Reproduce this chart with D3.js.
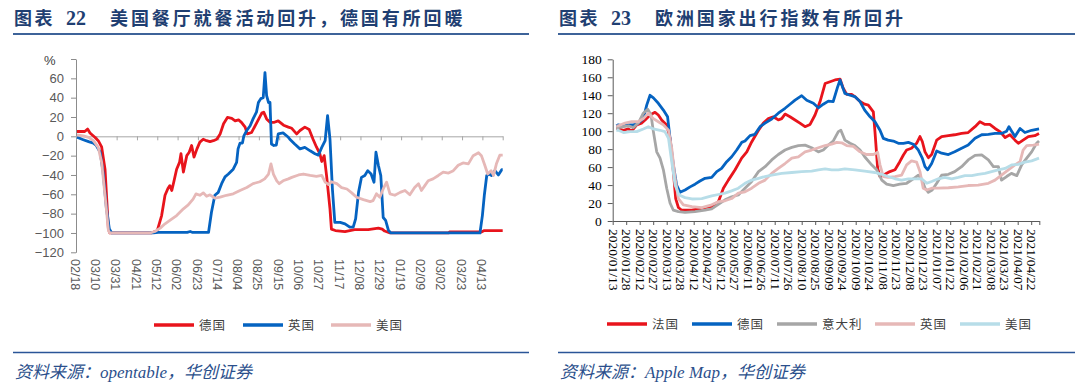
<!DOCTYPE html>
<html>
<head>
<meta charset="utf-8">
<script src="https://cdn.jsdelivr.net/npm/d3@7/dist/d3.min.js"></script>
<style>
  body { margin: 0; background: #fff; }
  svg { display: block; }
</style>
</head>
<body>
<svg id="chart" width="1080" height="388"></svg>
<script>
// ---- left panel data (day offset from 2020-02-18, value %) ----
const leftStart = '2020-02-18';
const leftDays = 441;
const leftTicks = ['2020-02-18', '2020-03-10', '2020-03-31', '2020-04-21', '2020-05-12', '2020-06-02',
  '2020-06-23', '2020-07-14', '2020-08-04', '2020-08-25', '2020-09-15', '2020-10-06', '2020-10-27',
  '2020-11-17', '2020-12-08', '2020-12-29', '2021-01-19', '2021-02-09', '2021-03-02', '2021-03-23', '2021-04-13'];
const leftYTicks = [-120, -100, -80, -60, -40, -20, 0, 20, 40, 60];

const germanyL = [[1,5],[5,5],[9,5],[12,7.5],[14.5,3.5],[19.5,-1],[23,-4.5],[26.5,-11],[30,-34],[33.5,-96],[35,-100],
  [78,-100],[84,-97.5],[88.5,-82],[92,-61],[95,-54],[97,-51],[99,-56],[101,-47.5],[104,-34],[107,-27],[108.5,-18],
  [111,-37],[114.5,-20],[117,-16.5],[119.5,-9.5],[122,-21.5],[125,-13],[128,-6],[131.5,-3],[135,-4.5],[138.5,-5.5],
  [142,-4.5],[145.5,-3],[149,2.5],[152.5,13],[156.5,19.5],[161,18.5],[164.5,16],[168,17],[171,14.5],[174.8,9.5],
  [177,2.5],[181.5,4],[187,14.5],[192,24],[194,25],[197,18],[200.5,14.5],[205,14.5],[209,16],[214.5,11.5],
  [219.5,9.5],[223,8.3],[228,2.5],[231.5,6],[236.5,9.5],[241,7],[245,-3],[248.5,-11],[252,-18],[254,-26],
  [256.5,-20],[259,-41],[262.5,-75],[264,-96],[268,-97.5],[278,-98.5],[288,-96.5],[302,-96.5],[312.5,-95],
  [316.5,-96],[319,-98],[324.5,-100],[385,-100],[386,-99],[419,-99],[422,-97.5],[441,-97.5]];

const ukL = [[1,-1],[7.5,-3.5],[13,-5.5],[18,-7],[21,-9.5],[25,-16.5],[28,-37],[31.5,-75],[34.5,-96],[37,-100],
  [80,-100],[85,-99.3],[115,-99.3],[118,-98.5],[120,-99.3],[137,-99.3],[140,-78.5],[143.5,-61],[147,-58],
  [150.5,-49],[154,-42],[157.5,-39],[162.5,-34],[166,-27],[167.5,-13],[169.5,-7],[172,-7],[173.5,0.5],[176.5,6],
  [180,11],[183,18],[186.5,25],[188.5,35],[191,39],[193.5,40],[195.3,66],[197,42],[199,35],[200.5,35],[202,-8],
  [204.5,-9.5],[207,-9],[209,2.5],[214,3.5],[219.5,-1],[221,-3],[226,-8],[231.5,-13],[236.5,-11.5],[242,-15],
  [247,-18],[250.5,-19.5],[254,-11.5],[257.5,-4.5],[260,21.5],[262.5,-3],[265,-54.5],[267.5,-89],[273,-89],
  [278,-90.5],[283,-94],[286.5,-94],[289,-85.5],[292,-58],[295,-42.5],[298.5,-40.5],[301.5,-35.5],[305,-39],
  [308,-47.5],[310,-16.5],[312.5,-30],[315,-40.5],[317.5,-84],[320,-87],[323,-97.5],[325.5,-100],[417.5,-100],
  [420,-82],[422,-61],[424.5,-40.5],[427,-39],[429.5,-40.5],[433,-35.5],[436.5,-40],[440,-34.5],[441,-34.5]];

const usL = [[1,1.5],[7.5,0.5],[13,-1],[18,-4.5],[23,-11.5],[26.5,-27],[30,-61],[33.5,-97.5],[35,-100],
  [76.5,-100],[81.5,-98.5],[87,-95],[92,-90.5],[97,-87],[104,-82],[111,-75],[116,-71],[121,-65],[124,-59.5],
  [128,-61],[131.5,-58.5],[135,-62],[138.5,-60.5],[143.5,-64],[149,-63],[155.5,-61],[162.5,-59.5],[169.5,-56],
  [176.5,-53],[183,-49],[190,-47],[195,-44],[199,-39],[201.5,-28.5],[204,-39],[207.5,-46],[210,-49],[214,-46],
  [219.5,-44],[223,-42.5],[230,-40],[235,-39],[242,-40.5],[248.5,-41.5],[254,-40.5],[257.5,-47.5],[261,-50],
  [264,-47],[269.5,-49],[274.5,-53],[280,-54.5],[285,-58.5],[290,-63],[297,-65.5],[304,-67.5],[307,-66.5],
  [310.5,-59.5],[314,-63],[317.5,-54.5],[321,-47.5],[324.5,-59.5],[329.5,-61],[335,-58],[340,-56],[345,-60.5],
  [350,-53],[354,-49],[357,-56],[360.5,-51],[364,-46],[369,-44],[374.5,-40.5],[379.5,-37],[385,-38],[390,-35.5],
  [395,-30],[400,-27.5],[405.5,-28.5],[410.5,-20],[416,-17],[419,-20],[422.5,-30],[425.5,-39],[429,-35.5],
  [431.5,-40.5],[434.5,-28.5],[438,-19.5],[441,-19.5]];

// ---- right panel data (day offset from 2020-01-13, index) ----
const rightStart = '2020-01-13';
const rightDays = 474;
const rightTicks = ['2020-01-13', '2020-01-28', '2020-02-12', '2020-02-27', '2020-03-13', '2020-03-28',
  '2020-04-12', '2020-04-27', '2020-05-12', '2020-05-27', '2020-06-11', '2020-06-26', '2020-07-11', '2020-07-26',
  '2020-08-10', '2020-08-25', '2020-09-09', '2020-09-24', '2020-10-09', '2020-10-24', '2020-11-08', '2020-11-23',
  '2020-12-08', '2020-12-23', '2021-01-07', '2021-01-22', '2021-02-06', '2021-02-21', '2021-03-08', '2021-03-23',
  '2021-04-07', '2021-04-22'];
const rightYTicks = [0, 20, 40, 60, 80, 100, 120, 140, 160, 180];

const franceR = [[4,103],[6.3,102.5],[12,101],[17.4,102.5],[21,100],[26.7,107],[32,109],[36,112.5],[41.5,118],
  [47,121],[50.7,118],[54.4,112.5],[60,107],[63.7,92],[67.4,55],[70,25],[73,15],[76.7,12],[88,12],[102.6,15],
  [110,16],[117.4,21.5],[123,36.5],[128.5,45.5],[136,57],[143.3,70],[149,77],[154.4,88],[162,101],[167.4,109],
  [173,114],[178.5,116],[184,112.5],[187.8,114],[191.5,119],[197,116],[202.6,112.5],[208,109],[213.7,105],
  [219.3,107.5],[224.8,118],[230.4,133],[236,153],[241.5,155],[247,157],[252.6,158],[256,148],[260,141],
  [265.5,141],[269,138.5],[274.8,133],[280,130],[284,129],[289.6,121.5],[291.4,99.5],[294.4,58.5],[297,49.5],
  [302.5,52],[308,55],[313.7,57],[319,66],[323,73.5],[326.6,79],[332,81],[337.7,86.5],[341.4,94],[344,88.5],
  [347,77],[350.7,70.5],[354.4,74],[360,90],[365.5,94],[373,95],[380,96],[387.7,97.5],[395,98.5],[402.6,105],
  [408,110.5],[413.7,107.5],[419,107.5],[424.8,103],[430.3,99.5],[436,93],[441.4,96],[447,90],[450.7,86.5],
  [456,90],[461.8,94],[469,95],[473.7,97.5]];

const germanyR = [[4,106],[6.3,107],[12,106],[17.4,107],[23,107],[28.5,109],[34,114],[37.8,129],[41.5,140],
  [45.2,137],[50.7,131],[56.3,123.5],[61,116],[63.7,92],[67.4,62.5],[71,40],[74.8,32],[80.4,34.5],[86,38],
  [91.5,41],[97,44.5],[102.6,47.5],[110,48.5],[115.6,55],[121,58.5],[126.7,66],[132.2,71.5],[137.8,79],
  [143.3,87.5],[147,89],[152.6,95],[158,96.5],[163.7,105],[169.3,109],[176.7,113.5],[184,120],[191.5,125.5],
  [197,130],[202.6,134.5],[210,139.5],[215.6,134.5],[223,131],[228.5,126],[234,130],[239.6,133.5],[245,133],
  [250,149.5],[252.6,157],[258,142],[263.7,140],[269,138.5],[274.8,133],[280,123.5],[286,116],[291.4,110.5],
  [297,101],[300.7,92],[306,90],[311.8,89],[317.4,86.5],[323,86.5],[328.5,87.5],[334,85.5],[339.6,79],[344,70],
  [347,60.5],[350,57],[354.4,64],[360,78],[365.5,75.5],[373,74],[380,77],[387.7,81],[395,84.5],[402.6,92],
  [410,96],[417.4,96.5],[424.8,97.5],[432,97.5],[437.7,100],[440.3,105],[443.3,100],[447,94],[452.6,103],
  [458,98.5],[465.5,101],[473.7,102.5]];

const italyR = [[4,104],[6.3,104],[12,105],[17.4,106],[23,104],[28.5,109],[34,120],[38.9,124.5],[42.6,118],
  [45.2,99.5],[48.9,77],[52.6,70],[56.3,57],[60,36.5],[63.7,20],[67.4,12],[73,10.5],[80.4,9.5],[91.5,10.5],
  [102.6,12],[110,13.5],[117.4,18.5],[124.8,23.5],[132.2,27],[139.6,29],[147,36.5],[154.4,44],[162,55],
  [169.3,60.5],[176.7,68],[184,74],[191.5,79],[199,82],[206.3,84],[213.7,84.5],[221,81.5],[228.5,77],[234,79],
  [239.6,84.5],[245,89],[250.7,99.5],[253.5,101],[258,90],[263.7,86.5],[269,84],[274.8,79],[280,71.5],
  [287.7,62.5],[293.3,57],[299,45.5],[304.4,41],[311.8,39.5],[319,41],[326.6,42],[334,47],[339.6,51],[344,45.5],
  [347,36.5],[350.7,32],[355,34.5],[360,42],[365.5,51],[373,52],[380,55],[387.7,60.5],[395,68],[402.6,73],
  [410,73.5],[417.4,68],[423,60.5],[428.5,60.5],[432,45.5],[437.7,49.5],[443,53],[449,50.5],[454.4,62.5],
  [460,70],[465.5,77],[471,86.5],[473.7,89]];

const ukR = [[4,106],[6.3,106],[13.7,109],[21,110.5],[28.5,110.5],[34,114],[39.6,120],[45.2,114],[50.7,110.5],
  [56.3,107],[62,101],[65.6,81],[69.3,47.5],[73,25],[78.5,18],[88,16],[99,15],[110,18],[117.4,21.5],[124.8,22.5],
  [132.2,25],[139.6,31],[147,32.5],[154.4,36.5],[162,42],[169.3,45.5],[176.7,53],[184,58.5],[191.5,64],[199,70],
  [206.3,71.5],[213.7,77],[221,79],[228.5,81.5],[236,84],[243.3,85.5],[249,87.5],[254.4,87],[260,84],[267.4,83],
  [274.8,77],[282,74],[289.6,74],[294.4,76.5],[297,62.5],[300.7,49.5],[306,48.5],[313.7,49.5],[321,51],
  [326.6,62.5],[332,67],[337.7,65.5],[341.4,55],[345,36.5],[349,34.5],[354.4,36.5],[361.8,36.5],[373,37],
  [384,38],[395,39.5],[406,40],[417.4,42],[424.8,45.5],[432,51],[439.6,57],[447,62.5],[452.6,66],[456,79],
  [460,84],[467.4,84.5],[473.7,85.5]];

const usR = [[4,101],[6.3,101],[12,98.5],[19.3,99.5],[26.7,99.5],[34,102.5],[39.6,105],[45.2,102.5],[52.6,101],
  [58,99.5],[62,92],[65.6,66],[69.3,40],[73.7,29],[80.4,26],[88,24.5],[99,25],[110,28],[117.4,29.5],[124.8,31],
  [132.2,33.5],[139.6,36.5],[147,42],[154.4,45.5],[162,47.5],[169.3,49.5],[176.7,51],[187.8,53],[199,54],
  [210,55],[221,55.5],[228.5,57],[236,58],[243.3,57],[250.7,57],[258,58],[269,57],[280,55.5],[291.4,54],
  [299,52],[306,49.5],[313.7,47],[321,45.5],[328.5,47],[336,47],[343.3,47],[349,42],[354.4,44],[361.8,47],
  [369,48.5],[376.6,47],[384,48.5],[391.4,50.5],[399,50.5],[406,52],[413.7,53],[421,55],[428.5,57],[436,58.5],
  [443.3,62.5],[450.7,63],[458,65.5],[465.5,67],[473.7,70]];

const svg = d3.select('#chart');
const parse = d3.utcParse('%Y-%m-%d');
const dayMs = 864e5;
const cjk = '"Noto Sans CJK SC", sans-serif';
const navy = '#1f3f72';

// ---------- headers / footers ----------
function frame(x0, x1, num, title, source) {
  const t = svg.append('text')
    .attr('y', 25)
    .attr('fill', navy)
    .style('font-weight', 700);
  t.append('tspan').attr('x', x0).text('图表')
    .style('font-family', cjk).style('font-size', '18px').style('letter-spacing', '2.5px');
  t.append('tspan').attr('x', x0 + 52).text(num)
    .style('font-family', '"Liberation Serif", serif').style('font-size', '20px');
  t.append('tspan').attr('x', x0 + 96).text(title)
    .style('font-family', cjk).style('font-size', '18px').style('letter-spacing', '2.9px');

  svg.append('line').attr('x1', x0 - 1).attr('x2', x1).attr('y1', 34).attr('y2', 34)
    .attr('stroke', '#3d6399').attr('stroke-width', 2);
  svg.append('line').attr('x1', x0 - 1).attr('x2', x1).attr('y1', 352.5).attr('y2', 352.5)
    .attr('stroke', '#2a5597').attr('stroke-width', 1.5);

  svg.append('text')
    .attr('x', x0 + 1).attr('y', 378)
    .attr('fill', '#2b4f8c')
    .style('font-family', '"Liberation Serif", ' + cjk)
    .style('font-style', 'italic')
    .style('font-size', '17px')
    .text(source);
}

frame(14, 529, '22', '美国餐厅就餐活动回升，德国有所回暖', '资料来源：opentable，华创证券');
frame(559, 1075, '23', '欧洲国家出行指数有所回升', '资料来源：Apple Map，华创证券');

function legend(items, y) {
  items.forEach(item => {
    svg.append('line')
      .attr('x1', item.x).attr('x2', item.x + 40)
      .attr('y1', y).attr('y2', y)
      .attr('stroke', item.color).attr('stroke-width', 3.5);
    svg.append('text')
      .attr('x', item.x + 45).attr('y', y + 4.5)
      .attr('fill', '#404040')
      .style('font-family', cjk)
      .style('font-size', '12.5px')
      .style('letter-spacing', '1px')
      .text(item.label);
  });
}

function drawLines(g, series, x, y, start) {
  const t0 = parse(start).getTime();
  const line = d3.line()
    .x(d => x(new Date(t0 + d[0] * dayMs)))
    .y(d => y(d[1]));
  series.forEach(s => {
    g.append('path')
      .datum(s.data)
      .attr('fill', 'none')
      .attr('stroke', s.color)
      .attr('stroke-width', 2.8)
      .attr('stroke-linejoin', 'round')
      .attr('d', line);
  });
}

// ---------- left chart ----------
{
  const t0 = parse(leftStart);
  const tEnd = new Date(t0.getTime() + leftDays * dayMs);
  const x = d3.scaleUtc().domain([t0, tEnd]).range([76, 502.7]);
  const y = d3.scaleLinear().domain([-120, 80]).range([252.3, 59]);
  const g = svg.append('g');
  const fmt = d => d < 0 ? '\u2212' + Math.abs(d) : String(d);

  const yAxis = g.append('g')
    .attr('transform', 'translate(76,0)')
    .call(d3.axisLeft(y).tickValues(leftYTicks.concat([80])).tickSize(5).tickPadding(7).tickSizeOuter(0)
      .tickFormat(d => d === 80 ? '' : fmt(d)));
  yAxis.select('.domain').attr('stroke', '#8c8c8c');
  yAxis.selectAll('.tick line').attr('stroke', '#8c8c8c');
  yAxis.selectAll('text').attr('fill', '#595959')
    .style('font-family', '"Liberation Sans", Arial, sans-serif').style('font-size', '13px');

  const tickDates = leftTicks.map(parse);
  const xAxis = g.append('g')
    .attr('transform', `translate(0,${y(0)})`)
    .call(d3.axisBottom(x).tickValues(tickDates.concat([tEnd])).tickSize(4).tickSizeOuter(0).tickFormat(''));
  xAxis.select('.domain').attr('stroke', '#a6a6a6');
  xAxis.selectAll('.tick line').attr('stroke', '#a6a6a6');

  g.selectAll('.xlab')
    .data(tickDates)
    .join('text')
    .attr('transform', d => `translate(${x(d) - 1},259) rotate(90)`)
    .attr('dy', '0.35em')
    .attr('fill', '#595959')
    .style('font-family', '"Liberation Sans", Arial, sans-serif')
    .style('font-size', '12.5px')
    .text(d3.utcFormat('%m/%d'));

  g.append('text').attr('x', 44).attr('y', 65).attr('fill', '#404040')
    .style('font-family', '"Liberation Sans", Arial, sans-serif').style('font-size', '13px').text('%');

  drawLines(g, [
    { data: germanyL, color: '#e8141c' },
    { data: ukL, color: '#0563c1' },
    { data: usL, color: '#e6b8b7' }
  ], x, y, leftStart);

  legend([
    { x: 154, label: '德国', color: '#e8141c' },
    { x: 243, label: '英国', color: '#0563c1' },
    { x: 331, label: '美国', color: '#e6b8b7' }
  ], 325);
}

// ---------- right chart ----------
{
  const t0 = parse(rightStart);
  const tEnd = new Date(t0.getTime() + rightDays * dayMs);
  const x = d3.scaleUtc().domain([t0, tEnd]).range([612.7, 1039.3]);
  const y = d3.scaleLinear().domain([0, 180]).range([221, 59.3]);
  const g = svg.append('g');

  const yAxis = g.append('g')
    .attr('transform', 'translate(612.7,0)')
    .call(d3.axisLeft(y).tickValues(rightYTicks).tickSize(5).tickPadding(6).tickSizeOuter(0));
  yAxis.select('.domain').attr('stroke', '#595959');
  yAxis.selectAll('.tick line').attr('stroke', '#595959');
  yAxis.selectAll('text').attr('fill', '#000')
    .style('font-family', '"Liberation Serif", serif').style('font-size', '13.5px');

  const tickDates = rightTicks.map(parse);
  const xAxis = g.append('g')
    .attr('transform', `translate(0,${y(0)})`)
    .call(d3.axisBottom(x).tickValues(tickDates.concat([tEnd])).tickSize(4).tickSizeOuter(0).tickFormat(''));
  xAxis.select('.domain').attr('stroke', '#595959');
  xAxis.selectAll('.tick line').attr('stroke', '#595959');

  g.selectAll('.xlab')
    .data(tickDates)
    .join('text')
    .attr('transform', d => `translate(${x(d) + 1},229) rotate(90)`)
    .attr('dy', '0.35em')
    .attr('fill', '#000')
    .style('font-family', '"Liberation Serif", serif')
    .style('font-size', '13.5px')
    .text(d3.utcFormat('%Y/%m/%d'));

  drawLines(g, [
    { data: franceR, color: '#e8141c' },
    { data: germanyR, color: '#0563c1' },
    { data: italyR, color: '#a6a6a6' },
    { data: ukR, color: '#e6b8b7' },
    { data: usR, color: '#b7dde8' }
  ], x, y, rightStart);

  legend([
    { x: 607, label: '法国', color: '#e8141c' },
    { x: 692, label: '德国', color: '#0563c1' },
    { x: 777, label: '意大利', color: '#a6a6a6' },
    { x: 875, label: '英国', color: '#e6b8b7' },
    { x: 960, label: '美国', color: '#b7dde8' }
  ], 324);
}
</script>
</body>
</html>
